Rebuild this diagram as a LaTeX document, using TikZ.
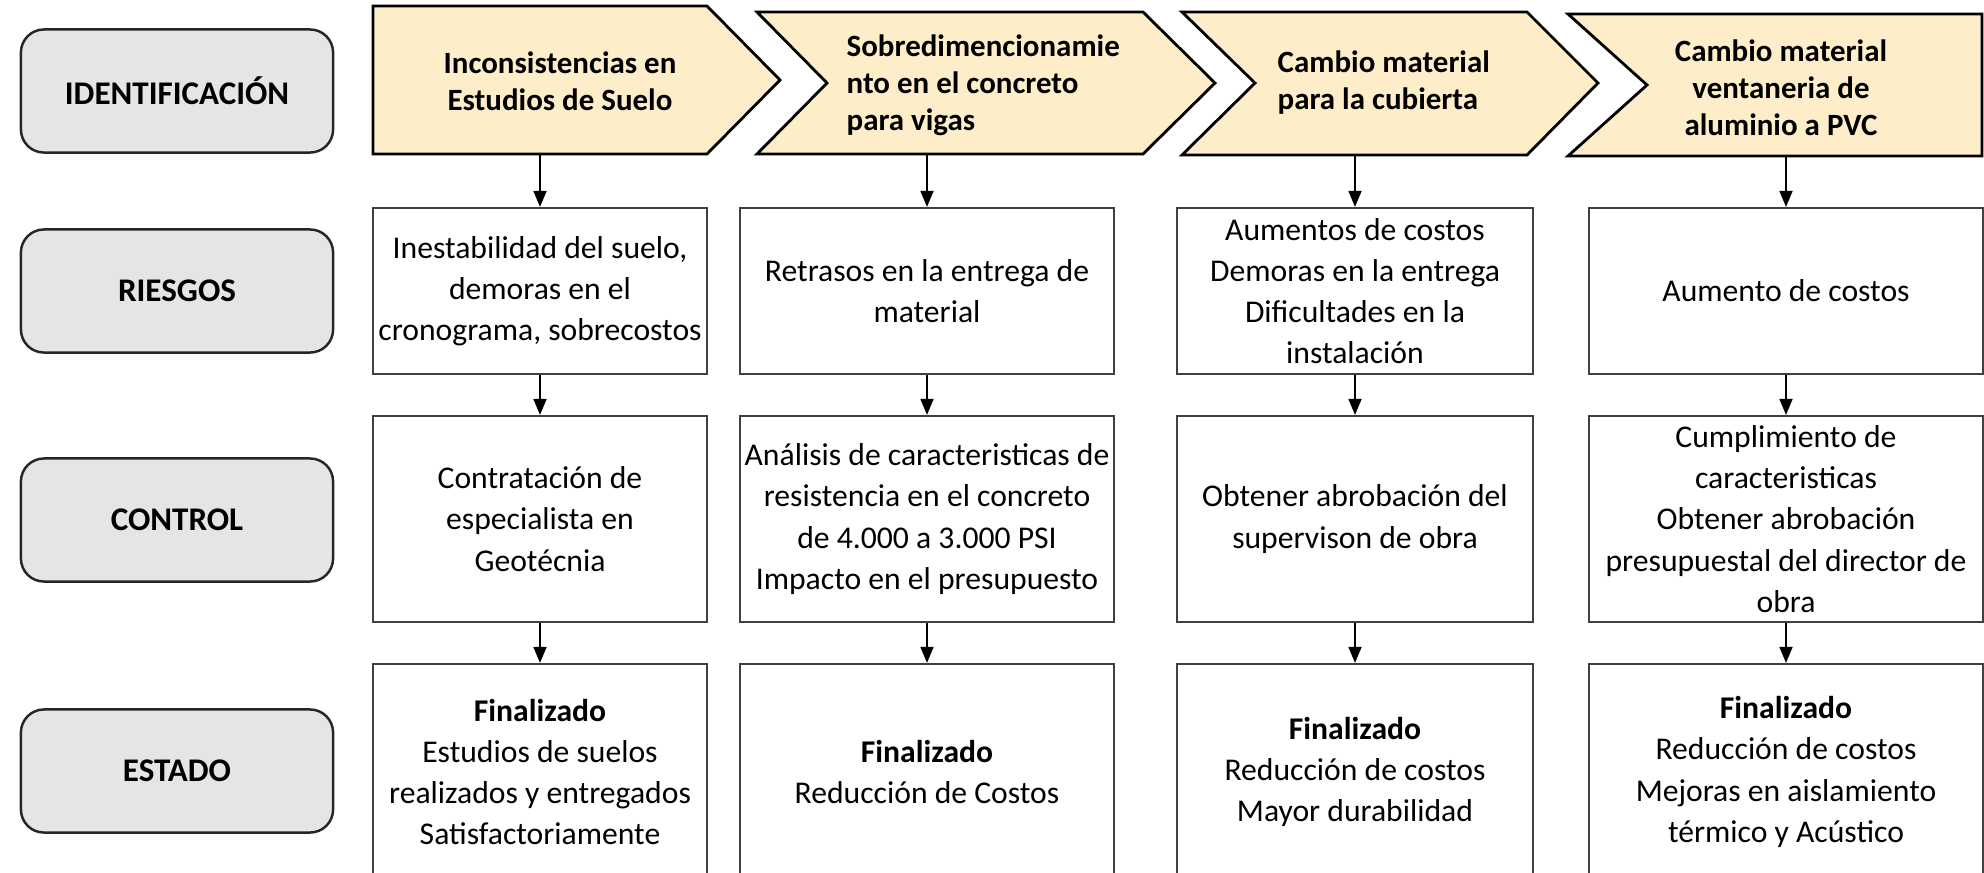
\documentclass[tikz,border=0pt]{standalone}
\usepackage{fontspec}
\setmainfont{Carlito}
\usetikzlibrary{arrows.meta}

\definecolor{amarillo}{RGB}{253,238,201}
\definecolor{grisclaro}{RGB}{229,229,229}

\tikzset{
  etiqueta/.style={draw=black!85, line width=0.7pt, fill=grisclaro, rounded corners=2.3mm,
    minimum width=3.12cm, minimum height=1.23cm, font=\fontsize{9.4}{11}\selectfont\bfseries},
  caja/.style={draw=black!75, line width=0.6pt, align=center, inner sep=1pt,
    font=\fontsize{9}{11.7}\selectfont},
  chevron/.style={draw=black, line width=0.8pt, fill=amarillo, line join=miter},
  titulo/.style={font=\fontsize{8.8}{10.5}\selectfont\bfseries, inner sep=0pt},
  flecha/.style={-{Triangle[length=1.6mm,width=1.3mm]}, line width=0.5pt}
}

\begin{document}
\begin{tikzpicture}[x=0.01cm, y=-0.01cm]
        \useasboundingbox (0,0) rectangle (1984,872);

        \node[etiqueta] (identificacion) at (177,91) {IDENTIFICACIÓN};
        \node[etiqueta] (riesgos) at (177,291) {RIESGOS};
        \node[etiqueta] (control) at (177,520) {CONTROL};
        \node[etiqueta] (estado) at (177,771) {ESTADO};

        \filldraw[chevron] (373,6) -- (707,6) -- (780,80) -- (707,154) -- (373,154) -- cycle;
        \filldraw[chevron] (757,12) -- (1143,12) -- (1215,83) -- (1143,154) -- (757,154) -- (827,83) -- cycle;
        \filldraw[chevron] (1182,12) -- (1527,12) -- (1598,83) -- (1527,155) -- (1182,155) -- (1255,83) -- cycle;
        \filldraw[chevron] (1568,14) -- (1982,14) -- (1982,156) -- (1568,156) -- (1647,85) -- cycle;

        \node[titulo, align=center] (ide1) at (560,81) {Inconsistencias en\\Estudios de Suelo};
        \node[titulo, align=left, anchor=west] (ide2) at (846,85) {Sobredimencionamie\\nto en el concreto\\para vigas};
        \node[titulo, align=left, anchor=west] (ide3) at (1277,83) {Cambio material\\para la cubierta};
        \node[titulo, align=center] (ide4) at (1781,88) {Cambio material\\ventaneria de\\aluminio a PVC};

        \coordinate (b1) at (540,155);
        \coordinate (b2) at (927,155);
        \coordinate (b3) at (1355,156);
        \coordinate (b4) at (1786,157);

        \node[caja, minimum width=3.34cm, minimum height=1.66cm] (rie1) at (540,291) {Inestabilidad del suelo,\\demoras en el\\cronograma, sobrecostos};
        \node[caja, minimum width=3.73cm, minimum height=1.66cm] (rie2) at (927,291) {Retrasos en la entrega de\\material};
        \node[caja, minimum width=3.56cm, minimum height=1.66cm] (rie3) at (1355,291) {Aumentos de costos\\Demoras en la entrega\\Dificultades en la\\instalación};
        \node[caja, minimum width=3.93cm, minimum height=1.66cm] (rie4) at (1786,291) {Aumento de costos};

        \node[caja, minimum width=3.34cm, minimum height=2.06cm] (con1) at (540,519) {Contratación de\\especialista en\\Geotécnia};
        \node[caja, minimum width=3.73cm, minimum height=2.06cm] (con2) at (927,519) {Análisis de caracteristicas de\\resistencia en el concreto\\de 4.000 a 3.000 PSI\\Impacto en el presupuesto};
        \node[caja, minimum width=3.56cm, minimum height=2.06cm] (con3) at (1355,519) {Obtener abrobación del\\supervison de obra};
        \node[caja, minimum width=3.93cm, minimum height=2.06cm] (con4) at (1786,519) {Cumplimiento de\\caracteristicas\\Obtener abrobación\\presupuestal del director de\\obra};

        \node[caja, minimum width=3.34cm, minimum height=2.16cm] (est1) at (540,772) {\textbf{Finalizado}\\Estudios de suelos\\realizados y entregados\\Satisfactoriamente};
        \node[caja, minimum width=3.73cm, minimum height=2.16cm] (est2) at (927,772) {\textbf{Finalizado}\\Reducción de Costos};
        \node[caja, minimum width=3.56cm, minimum height=2.16cm] (est3) at (1355,772) {\textbf{Finalizado}\\Reducción de costos\\Mayor durabilidad};
        \node[caja, minimum width=3.93cm, minimum height=2.16cm] (est4) at (1786,772) {\textbf{Finalizado}\\Reducción de costos\\Mejoras en aislamiento\\térmico y Acústico};

        \draw[flecha] (b1) -- (rie1.north);
        \draw[flecha] (b2) -- (rie2.north);
        \draw[flecha] (b3) -- (rie3.north);
        \draw[flecha] (b4) -- (rie4.north);
        \draw[flecha] (rie1.south) -- (con1.north);
        \draw[flecha] (rie2.south) -- (con2.north);
        \draw[flecha] (rie3.south) -- (con3.north);
        \draw[flecha] (rie4.south) -- (con4.north);
        \draw[flecha] (con1.south) -- (est1.north);
        \draw[flecha] (con2.south) -- (est2.north);
        \draw[flecha] (con3.south) -- (est3.north);
        \draw[flecha] (con4.south) -- (est4.north);
    \end{tikzpicture}
\end{document}
